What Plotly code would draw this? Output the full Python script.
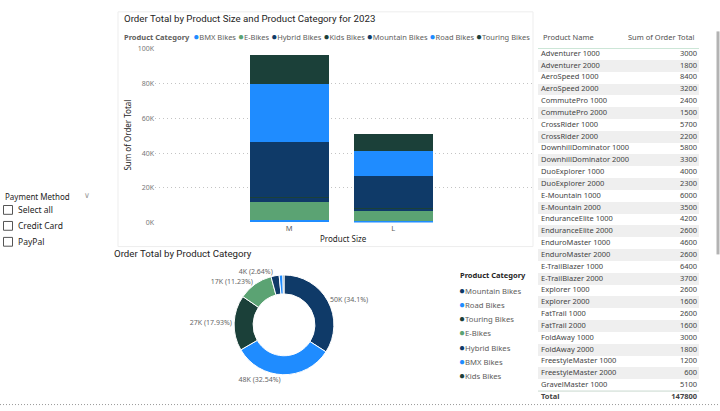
import plotly.graph_objects as go

# ---------------- data ----------------
categories = ["BMX Bikes", "E-Bikes", "Hybrid Bikes", "Kids Bikes", "Mountain Bikes", "Road Bikes", "Touring Bikes"]
sizes = ["M", "L"]
size_M = [1200, 10600, 2600, 300, 31600, 33800, 16500]
size_L = [600, 6000, 1300, 200, 18800, 14300, 10000]
cat_colors = ["#1F8CFF", "#5BA373", "#0F3A68", "#1B4039", "#0F3A68", "#1F8CFF", "#1B4039"]

pie_order = ["Mountain Bikes", "Road Bikes", "Touring Bikes", "E-Bikes", "Hybrid Bikes", "BMX Bikes", "Kids Bikes"]

y_ticks = [0, 20000, 40000, 60000, 80000, 100000]
y_ticktext = ["0K", "20K", "40K", "60K", "80K", "100K"]

product_names = ["Adventurer 1000", "Adventurer 2000", "AeroSpeed 1000", "AeroSpeed 2000",
                 "CommutePro 1000", "CommutePro 2000", "CrossRider 1000", "CrossRider 2000",
                 "DownhillDominator 1000", "DownhillDominator 2000", "DuoExplorer 1000",
                 "DuoExplorer 2000", "E-Mountain 1000", "E-Mountain 2000", "EnduranceElite 1000",
                 "EnduranceElite 2000", "EnduroMaster 1000", "EnduroMaster 2000",
                 "E-TrailBlazer 1000", "E-TrailBlazer 2000", "Explorer 1000", "Explorer 2000",
                 "FatTrail 1000", "FatTrail 2000", "FoldAway 1000", "FoldAway 2000",
                 "FreestyleMaster 1000", "FreestyleMaster 2000", "GravelMaster 1000"]
product_totals = [3000, 1800, 8400, 3200, 2400, 1500, 5700, 2200, 5800, 3300, 4000, 2300, 6000, 3500,
                  4200, 2600, 4600, 2600, 6400, 3700, 2600, 1600, 2600, 1600, 3000, 1800, 1200, 600, 5100]
grand_total = 147800

payment_methods = ["Select all", "Credit Card", "PayPal"]

# ---------------- helpers ----------------
W, H = 720, 411
def px(x):
    return x / W
def py(y):
    return 1 - y / H

BODY = "Noto Sans, Open Sans, sans-serif"
TITLE = "Roboto, sans-serif"
DOT = "<span style='font-size:10px'>●</span>"

fig = go.Figure()

# ---------------- stacked bar ----------------
for i, cat in enumerate(categories):
    fig.add_trace(go.Bar(
        x=sizes, y=[size_M[i], size_L[i]], name=cat,
        marker=dict(color=cat_colors[i], line=dict(width=0)),
        showlegend=False, xaxis="x", yaxis="y", hoverinfo="skip"))

# ---------------- donut ----------------
cat_total = {c: size_M[i] + size_L[i] for i, c in enumerate(categories)}
pie_vals = [cat_total[c] for c in pie_order]
pie_cols = [cat_colors[categories.index(c)] for c in pie_order]
tot = sum(pie_vals)
pie_text = []
for v in pie_vals:
    pct = v / tot * 100
    if pct < 2:
        pie_text.append("")
    else:
        p = f"{pct:.2f}".rstrip("0").rstrip(".")
        pie_text.append(f"{int(v / 1000 + 0.5)}K ({p}%)")

fig.add_trace(go.Pie(
    labels=pie_order, values=pie_vals, text=pie_text, textinfo="text",
    textposition="outside", textfont=dict(size=7, color="#666666", family=BODY),
    marker=dict(colors=pie_cols, line=dict(color="white", width=1)),
    hole=0.62, sort=False, direction="clockwise", rotation=0,
    domain=dict(x=[px(232), px(336)], y=[py(378), py(276)]),
    showlegend=False, hoverinfo="skip"))

# ---------------- table (as text on a hidden axis) ----------------
n = len(product_names)
stripe_rows = [r for r in range(n) if r % 2 == 1]
fig.add_trace(go.Bar(
    y=stripe_rows, x=[1] * len(stripe_rows), base=0, width=1, orientation="h",
    marker=dict(color="#EFEFEF", line=dict(width=0)),
    xaxis="x3", yaxis="y3", showlegend=False, hoverinfo="skip"))
rows = list(range(n)) + [n]
fig.add_trace(go.Scatter(
    x=[0.019] * (n + 1), y=rows, mode="text",
    text=product_names + ["<b>Total</b>"], textposition="middle right",
    textfont=dict(size=7.5, color="#444444", family=BODY),
    xaxis="x3", yaxis="y3", showlegend=False, hoverinfo="skip"))
fig.add_trace(go.Scatter(
    x=[0.988] * (n + 1), y=rows, mode="text",
    text=[str(v) for v in product_totals] + [f"<b>{grand_total}</b>"], textposition="middle left",
    textfont=dict(size=7.5, color="#444444", family=BODY),
    xaxis="x3", yaxis="y3", showlegend=False, hoverinfo="skip"))

annotations = []
shapes = []

# bar chart title & legend
annotations.append(dict(x=px(122), y=py(14), xref="paper", yref="paper", xanchor="left", yanchor="middle",
                        text="Order Total by Product Size and Product Category for 2023", showarrow=False,
                        font=dict(family=TITLE, size=9.7, color="#252423")))
leg = "<b>Product Category</b> "
for c, col in zip(categories, cat_colors):
    leg += f" <span style='color:{col}'>{DOT}</span>{c}"
annotations.append(dict(x=px(122), y=py(32), xref="paper", yref="paper", xanchor="left", yanchor="middle",
                        text=leg, showarrow=False, font=dict(family=BODY, size=7.5, color="#605E5C")))
# axis titles
annotations.append(dict(x=px(128), y=py(133.5), xref="paper", yref="paper", xanchor="center", yanchor="middle",
                        text="Sum of Order Total", textangle=-90, showarrow=False,
                        font=dict(family=BODY, size=8, color="#252423")))
annotations.append(dict(x=px(343), y=py(239), xref="paper", yref="paper", xanchor="center", yanchor="middle",
                        text="Product Size", showarrow=False, font=dict(family=BODY, size=8, color="#252423")))

# donut title & legend
annotations.append(dict(x=px(112), y=py(254), xref="paper", yref="paper", xanchor="left", yanchor="middle",
                        text="Order Total by Product Category", showarrow=False,
                        font=dict(family=TITLE, size=9.7, color="#252423")))
annotations.append(dict(x=px(458), y=py(276), xref="paper", yref="paper", xanchor="left", yanchor="middle",
                        text="<b>Product Category</b>", showarrow=False,
                        font=dict(family=BODY, size=7.5, color="#252423")))
for k, (c, col) in enumerate(zip(pie_order, pie_cols)):
    annotations.append(dict(x=px(457), y=py(291 + k * 14.6), xref="paper", yref="paper", xanchor="left",
                            yanchor="middle", text=f"<span style='color:{col}'>{DOT}</span>{c}", showarrow=False,
                            font=dict(family=BODY, size=7.7, color="#605E5C")))

# table header
annotations.append(dict(x=px(541), y=py(33), xref="paper", yref="paper", xanchor="left", yanchor="middle",
                        text="Product Name", showarrow=False, font=dict(family=BODY, size=7.5, color="#505050")))
annotations.append(dict(x=px(697), y=py(33), xref="paper", yref="paper", xanchor="right", yanchor="middle",
                        text="Sum of Order Total", showarrow=False, font=dict(family=BODY, size=7.5, color="#505050")))
shapes.append(dict(type="line", xref="x3 domain", yref="y3", x0=0, x1=1, y0=-0.5, y1=-0.5,
                   line=dict(color="#9FD0B4", width=1)))
shapes.append(dict(type="line", xref="x3 domain", yref="y3", x0=0, x1=1, y0=n - 0.5, y1=n - 0.5,
                   line=dict(color="#C8D8CE", width=1)))
# scrollbar
shapes.append(dict(type="rect", xref="paper", yref="paper", x0=px(716.5), x1=px(719.5), y0=py(255), y1=py(27),
                   fillcolor="#B3B3B3", line=dict(width=0)))

# slicer
annotations.append(dict(x=px(3), y=py(196), xref="paper", yref="paper", xanchor="left", yanchor="middle",
                        text="Payment Method", showarrow=False, font=dict(family=BODY, size=8, color="#252423")))
annotations.append(dict(x=px(87), y=py(195), xref="paper", yref="paper", xanchor="center", yanchor="middle",
                        text="∨", showarrow=False, font=dict(family="DejaVu Sans", size=8, color="#9A9A9A")))
for k, m in enumerate(payment_methods):
    yc = 209.5 + k * 16.3
    shapes.append(dict(type="rect", xref="paper", yref="paper", x0=px(3.5), x1=px(12.5),
                       y0=py(yc + 4.5), y1=py(yc - 4.5), line=dict(color="#555555", width=1),
                       fillcolor="white"))
    annotations.append(dict(x=px(16), y=py(yc), xref="paper", yref="paper", xanchor="left", yanchor="middle",
                            text=m, showarrow=False, font=dict(family=BODY, size=8.5, color="#252423")))

# visual border & page dotted edge
shapes.append(dict(type="rect", xref="paper", yref="paper", x0=px(118), x1=px(533), y0=py(247), y1=py(7),
                   line=dict(color="#EDEDED", width=1), fillcolor="rgba(0,0,0,0)", layer="below"))
shapes.append(dict(type="line", xref="paper", yref="paper", x0=0, x1=1, y0=py(408.5), y1=py(408.5),
                   line=dict(color="#9A9A9A", width=1, dash="1px,2px")))

fig.update_layout(
    width=W, height=H, margin=dict(l=0, r=0, t=0, b=0),
    paper_bgcolor="white", plot_bgcolor="rgba(0,0,0,0)",
    barmode="stack", bargap=0.24,
    xaxis=dict(domain=[px(155), px(531.7)], range=[-1.29, 2.33], type="category",
               showgrid=False, zeroline=False, showline=False, ticks="",
               tickfont=dict(family=BODY, size=7.5, color="#605E5C"), fixedrange=True),
    yaxis=dict(domain=[py(222.3), py(45)], range=[0, 100000], tickvals=y_ticks, ticktext=y_ticktext,
               showgrid=True, gridcolor="#C4C4C4", griddash="1px,3px", gridwidth=1, zeroline=False,
               showline=False, ticks="", tickfont=dict(family=BODY, size=7, color="#777777"), fixedrange=True),
    xaxis3=dict(domain=[px(538), px(699)], range=[0, 1], visible=False, fixedrange=True, anchor="y3"),
    yaxis3=dict(domain=[py(406.8), py(44)], range=[n + 0.5, -0.5], visible=False, fixedrange=True, anchor="x3"),
    annotations=annotations, shapes=shapes,
)

fig.write_html("out.html")
